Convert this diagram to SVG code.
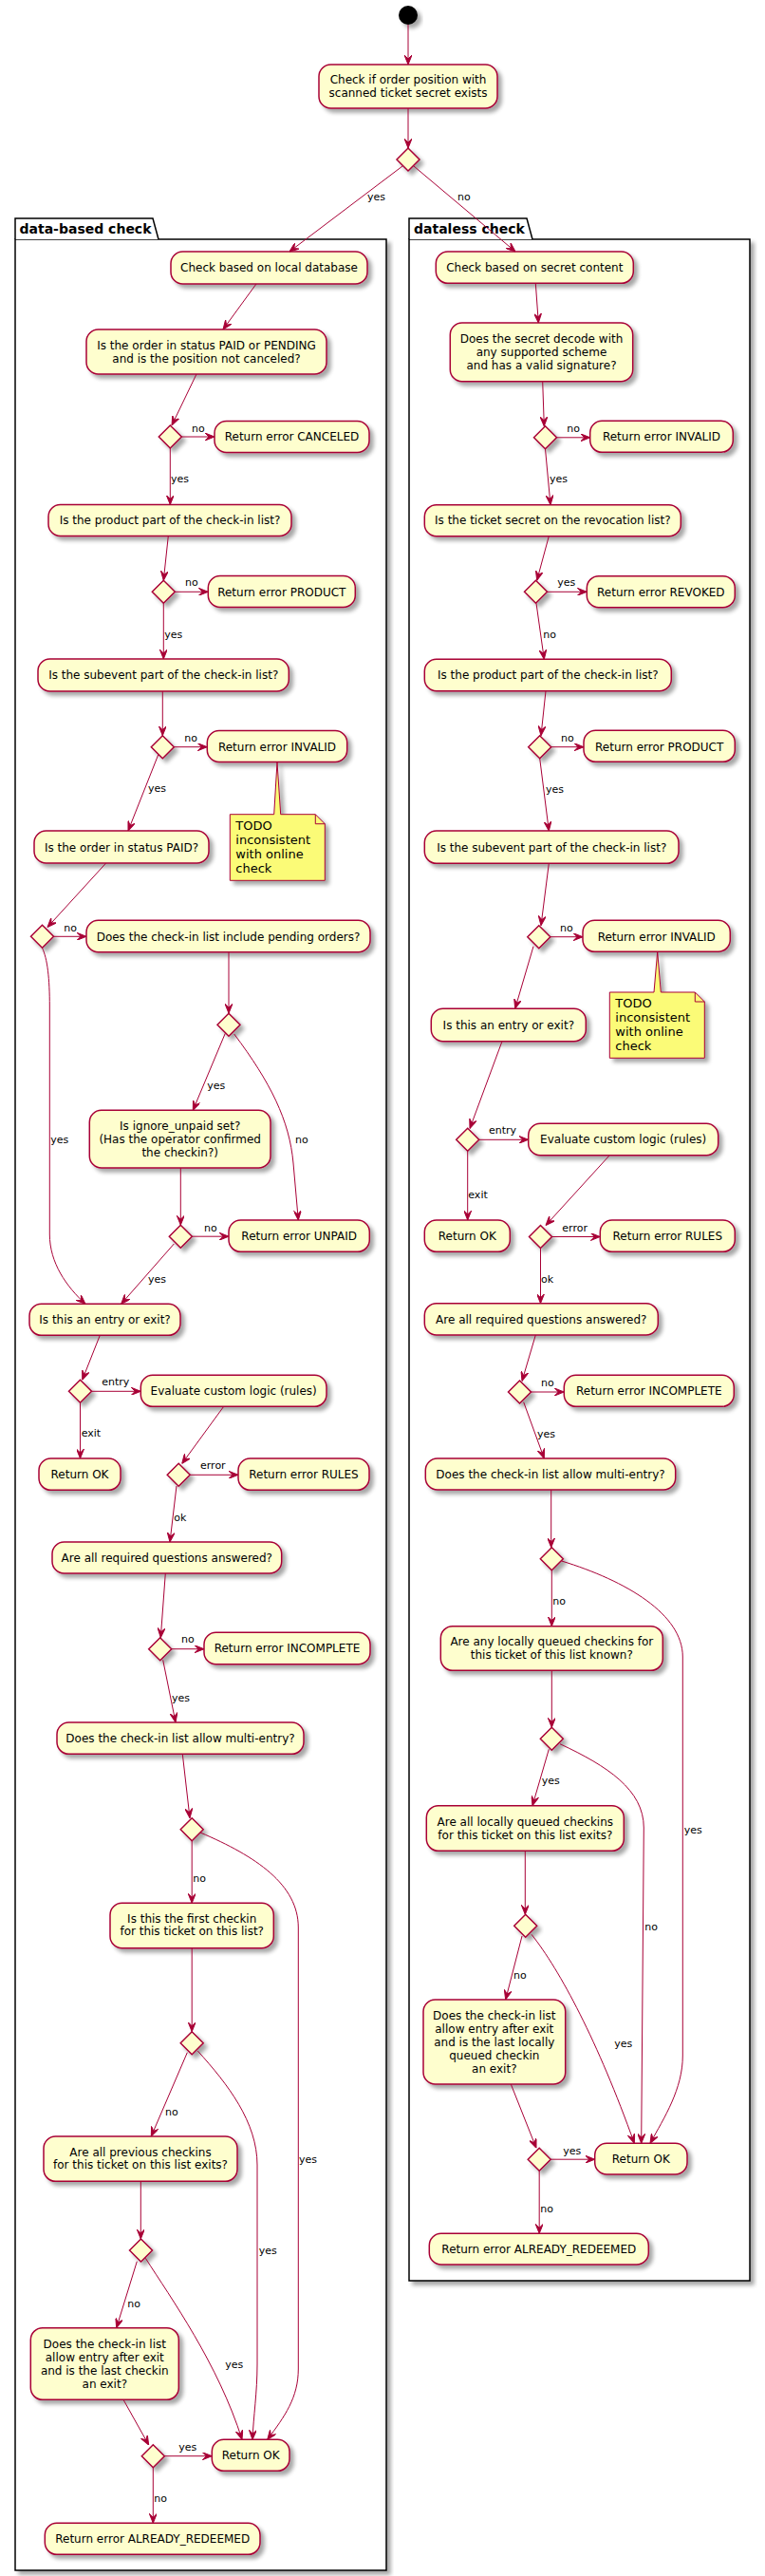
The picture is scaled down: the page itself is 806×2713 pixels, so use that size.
<svg xmlns="http://www.w3.org/2000/svg" width="806" height="2713" viewBox="0 0 806 2713">
<defs>
<filter id="sh" x="-20%" y="-20%" width="150%" height="160%">
<feGaussianBlur in="SourceAlpha" stdDeviation="2"/>
<feOffset dx="4" dy="4"/>
<feComponentTransfer><feFuncA type="linear" slope="0.35"/></feComponentTransfer>
<feMerge><feMergeNode/><feMergeNode in="SourceGraphic"/></feMerge>
</filter>
<filter id="shp" x="-2%" y="-2%" width="104%" height="104%">
<feGaussianBlur in="SourceAlpha" stdDeviation="2"/>
<feOffset dx="4" dy="4"/>
<feComponentTransfer><feFuncA type="linear" slope="0.35"/></feComponentTransfer>
<feMerge><feMergeNode/><feMergeNode in="SourceGraphic"/></feMerge>
</filter>
<marker id="ah" viewBox="0 0 10 8" refX="10" refY="4" markerWidth="10" markerHeight="8" markerUnits="userSpaceOnUse" orient="auto">
<path d="M0,0 L10,4 L0,8 L4,4 Z" fill="#A80036" stroke="#A80036" stroke-width="1"/>
</marker>
<style>
.a{fill:#FEFECE;stroke:#A80036;stroke-width:1.5;filter:url(#sh)}
.d{fill:#FEFECE;stroke:#A80036;stroke-width:1.5;filter:url(#sh)}
.n{fill:#FBFB77;stroke:#A80036;stroke-width:1;filter:url(#sh)}
.nf{fill:none;stroke:#A80036;stroke-width:1}
.p{fill:#FFFFFF;stroke:#000000;stroke-width:1.5}
.t{font-family:"DejaVu Sans",sans-serif;font-size:12px;fill:#000;text-anchor:middle}
.nt{font-family:"DejaVu Sans",sans-serif;font-size:13px;fill:#000}
.l{font-family:"DejaVu Sans",sans-serif;font-size:11px;fill:#000}
.pt{font-family:"DejaVu Sans",sans-serif;font-size:14px;font-weight:bold;fill:#000}
.e{fill:none;stroke:#A80036;stroke-width:1;marker-end:url(#ah)}
</style>
</defs>
<rect width="806" height="2713" fill="#FFFFFF"/>

<g id="pkg_data">
<rect class="p" x="16" y="252" width="391" height="2455" filter="url(#shp)"/>
<path class="p" d="M16,252 V230 H161 L167,252"/>
<text class="pt" x="20.5" y="245.5">data-based check</text>
</g>
<g id="pkg_dataless">
<rect class="p" x="431" y="252" width="359" height="2150" filter="url(#shp)"/>
<path class="p" d="M431,252 V230 H555 L561,252"/>
<text class="pt" x="436" y="245.5">dataless check</text>
</g>

<g id="start"><circle cx="430" cy="16" r="10" fill="#000000" filter="url(#sh)"/></g>
<g id="n_exists"><rect class="a" x="336" y="68" width="188" height="46" rx="12.5"/><text class="t" x="430" y="87.5">Check if order position with</text><text class="t" x="430" y="101.5">scanned ticket secret exists</text></g>
<g id="d_exists"><polygon class="d" points="418,168 430,156 442,168 430,180"/></g>

<!-- data-based check -->
<g id="L1"><rect class="a" x="180" y="265" width="207" height="34" rx="12.5"/><text class="t" x="283.5" y="286">Check based on local database</text></g>
<g id="L2"><rect class="a" x="91" y="347" width="253" height="47" rx="12.5"/><text class="t" x="217.5" y="367.6">Is the order in status PAID or PENDING</text><text class="t" x="217.5" y="381.6">and is the position not canceled?</text></g>
<g id="LD1"><polygon class="d" points="167.3,460 179.3,448 191.3,460 179.3,472"/></g>
<g id="L3"><rect class="a" x="226" y="443.5" width="163" height="33" rx="12.5"/><text class="t" x="307.5" y="464.3">Return error CANCELED</text></g>
<g id="L4"><rect class="a" x="51" y="531.5" width="256" height="33" rx="12.5"/><text class="t" x="179" y="551.8">Is the product part of the check-in list?</text></g>
<g id="LD2"><polygon class="d" points="160.3,623.3 172.3,611.3 184.3,623.3 172.3,635.3"/></g>
<g id="L5"><rect class="a" x="219.3" y="606.5" width="155" height="33" rx="12.5"/><text class="t" x="296.8" y="627.5">Return error PRODUCT</text></g>
<g id="L6"><rect class="a" x="40" y="694" width="264.3" height="34" rx="12.5"/><text class="t" x="172.2" y="715">Is the subevent part of the check-in list?</text></g>
<g id="LD3"><polygon class="d" points="159.3,786.7 171.3,774.7 183.3,786.7 171.3,798.7"/></g>
<g id="L7"><rect class="a" x="218.3" y="769.5" width="147.4" height="33" rx="12.5"/><text class="t" x="292" y="790.5">Return error INVALID</text></g>
<g id="note1"><path class="n" d="M242.3,857.7 H288.7 L292,802.5 L295.7,857.7 H332.3 L342.3,867.7 V927.3 H242.3 Z"/><path class="nf" d="M332.3,857.7 V867.7 H342.3"/><text class="nt" x="248.3" y="874">TODO</text><text class="nt" x="248.3" y="889">inconsistent</text><text class="nt" x="248.3" y="904">with online</text><text class="nt" x="248.3" y="919">check</text></g>
<g id="L8"><rect class="a" x="36" y="875" width="184" height="34" rx="12.5"/><text class="t" x="128" y="897">Is the order in status PAID?</text></g>
<g id="LD4"><polygon class="d" points="32.5,986.3 44.5,974.3 56.5,986.3 44.5,998.3"/></g>
<g id="L9"><rect class="a" x="91" y="969.3" width="299" height="33.4" rx="12.5"/><text class="t" x="240.5" y="990.5">Does the check-in list include pending orders?</text></g>
<g id="LD5"><polygon class="d" points="229,1079.2 241,1067.2 253,1079.2 241,1091.2"/></g>
<g id="L10"><rect class="a" x="94.3" y="1169.3" width="190.7" height="60.7" rx="12.5"/><text class="t" x="189.7" y="1190">Is ignore_unpaid set?</text><text class="t" x="189.7" y="1204">(Has the operator confirmed</text><text class="t" x="189.7" y="1218">the checkin?)</text></g>
<g id="LD6"><polygon class="d" points="178.3,1302.2 190.3,1290.2 202.3,1302.2 190.3,1314.2"/></g>
<g id="L11"><rect class="a" x="241" y="1285" width="148.3" height="33.3" rx="12.5"/><text class="t" x="315.2" y="1306">Return error UNPAID</text></g>
<g id="L12"><rect class="a" x="31" y="1373.3" width="159" height="33" rx="12.5"/><text class="t" x="110.5" y="1393.8">Is this an entry or exit?</text></g>
<g id="LD7"><polygon class="d" points="72.5,1465.3 84.5,1453.3 96.5,1465.3 84.5,1477.3"/></g>
<g id="L13"><rect class="a" x="148.3" y="1448.3" width="195.7" height="33" rx="12.5"/><text class="t" x="246.2" y="1469">Evaluate custom logic (rules)</text></g>
<g id="L14"><rect class="a" x="41" y="1536" width="86" height="33.3" rx="12.5"/><text class="t" x="84" y="1557">Return OK</text></g>
<g id="LD8"><polygon class="d" points="176.2,1553.3 188.2,1541.3 200.2,1553.3 188.2,1565.3"/></g>
<g id="L15"><rect class="a" x="251" y="1536" width="138" height="33.3" rx="12.5"/><text class="t" x="320" y="1557">Return error RULES</text></g>
<g id="L16"><rect class="a" x="55" y="1624" width="241.7" height="33" rx="12.5"/><text class="t" x="175.8" y="1645">Are all required questions answered?</text></g>
<g id="LD9"><polygon class="d" points="156.7,1736.7 168.7,1724.7 180.7,1736.7 168.7,1748.7"/></g>
<g id="L17"><rect class="a" x="215" y="1719.3" width="175" height="33.4" rx="12.5"/><text class="t" x="302.5" y="1740.4">Return error INCOMPLETE</text></g>
<g id="L18"><rect class="a" x="60" y="1814" width="260" height="33.3" rx="12.5"/><text class="t" x="190" y="1835">Does the check-in list allow multi-entry?</text></g>
<g id="LD10"><polygon class="d" points="190.2,1926.7 202.2,1914.7 214.2,1926.7 202.2,1938.7"/></g>
<g id="L19"><rect class="a" x="116" y="2004.3" width="172.3" height="47.4" rx="12.5"/><text class="t" x="202.2" y="2025">Is this the first checkin</text><text class="t" x="202.2" y="2038.3">for this ticket on this list?</text></g>
<g id="LD11"><polygon class="d" points="190.2,2151.7 202.2,2139.7 214.2,2151.7 202.2,2163.7"/></g>
<g id="L20"><rect class="a" x="46" y="2250" width="204" height="47.3" rx="12.5"/><text class="t" x="148" y="2271">Are all previous checkins</text><text class="t" x="148" y="2284.3">for this ticket on this list exits?</text></g>
<g id="LD12"><polygon class="d" points="136.5,2370 148.5,2358 160.5,2370 148.5,2382"/></g>
<g id="L21"><rect class="a" x="32.3" y="2451.7" width="156" height="75.6" rx="12.5"/><text class="t" x="110.3" y="2472.6">Does the check-in list</text><text class="t" x="110.3" y="2486.6">allow entry after exit</text><text class="t" x="110.3" y="2500.6">and is the last checkin</text><text class="t" x="110.3" y="2514.6">an exit?</text></g>
<g id="LD13"><polygon class="d" points="149.3,2586.7 161.3,2574.7 173.3,2586.7 161.3,2598.7"/></g>
<g id="L22"><rect class="a" x="223.3" y="2569.3" width="81.7" height="33" rx="12.5"/><text class="t" x="264.2" y="2590">Return OK</text></g>
<g id="L23"><rect class="a" x="47.3" y="2657.3" width="226.7" height="33" rx="12.5"/><text class="t" x="160.7" y="2678">Return error ALREADY_REDEEMED</text></g>

<!-- dataless check -->
<g id="R1"><rect class="a" x="459.3" y="265" width="208" height="33.3" rx="12.5"/><text class="t" x="563.3" y="286">Check based on secret content</text></g>
<g id="R2"><rect class="a" x="474.3" y="340" width="192.4" height="61.7" rx="12.5"/><text class="t" x="570.5" y="361">Does the secret decode with</text><text class="t" x="570.5" y="375">any supported scheme</text><text class="t" x="570.5" y="389">and has a valid signature?</text></g>
<g id="RD1"><polygon class="d" points="562.5,460.8 574.5,448.8 586.5,460.8 574.5,472.8"/></g>
<g id="R3"><rect class="a" x="621.7" y="443.3" width="150.6" height="33" rx="12.5"/><text class="t" x="697" y="464.3">Return error INVALID</text></g>
<g id="R4"><rect class="a" x="447.3" y="531.7" width="270" height="33" rx="12.5"/><text class="t" x="582.3" y="552">Is the ticket secret on the revocation list?</text></g>
<g id="RD2"><polygon class="d" points="552.5,623.3 564.5,611.3 576.5,623.3 564.5,635.3"/></g>
<g id="R5"><rect class="a" x="618.3" y="606.7" width="156" height="33" rx="12.5"/><text class="t" x="696.3" y="627.5">Return error REVOKED</text></g>
<g id="R6"><rect class="a" x="447.3" y="694.3" width="260" height="33.4" rx="12.5"/><text class="t" x="577.3" y="715">Is the product part of the check-in list?</text></g>
<g id="RD3"><polygon class="d" points="556.7,786.7 568.7,774.7 580.7,786.7 568.7,798.7"/></g>
<g id="R7"><rect class="a" x="615" y="769.3" width="159.3" height="33" rx="12.5"/><text class="t" x="694.7" y="790.5">Return error PRODUCT</text></g>
<g id="R8"><rect class="a" x="447.3" y="875" width="267.7" height="34.3" rx="12.5"/><text class="t" x="581.2" y="896.5">Is the subevent part of the check-in list?</text></g>
<g id="RD4"><polygon class="d" points="555.8,986.7 567.8,974.7 579.8,986.7 567.8,998.7"/></g>
<g id="R9"><rect class="a" x="614" y="969.3" width="155.3" height="33" rx="12.5"/><text class="t" x="691.7" y="990.5">Return error INVALID</text></g>
<g id="note2"><path class="n" d="M642.3,1045 H689 L692.7,1002.3 L696.3,1045 H732.3 L742.3,1055 V1114.3 H642.3 Z"/><path class="nf" d="M732.3,1045 V1055 H742.3"/><text class="nt" x="648.3" y="1061.4">TODO</text><text class="nt" x="648.3" y="1076.4">inconsistent</text><text class="nt" x="648.3" y="1091.4">with online</text><text class="nt" x="648.3" y="1106.4">check</text></g>
<g id="R10"><rect class="a" x="454.3" y="1062.3" width="163" height="34.4" rx="12.5"/><text class="t" x="535.8" y="1083.6">Is this an entry or exit?</text></g>
<g id="RD5"><polygon class="d" points="480.7,1200.3 492.7,1188.3 504.7,1200.3 492.7,1212.3"/></g>
<g id="R11"><rect class="a" x="556.7" y="1183.3" width="200" height="33.4" rx="12.5"/><text class="t" x="656.7" y="1204.3">Evaluate custom logic (rules)</text></g>
<g id="R12"><rect class="a" x="447.3" y="1285" width="90" height="33.3" rx="12.5"/><text class="t" x="492.3" y="1306">Return OK</text></g>
<g id="RD6"><polygon class="d" points="557.5,1302.5 569.5,1290.5 581.5,1302.5 569.5,1314.5"/></g>
<g id="R13"><rect class="a" x="632.3" y="1285" width="142" height="33.3" rx="12.5"/><text class="t" x="703.3" y="1306">Return error RULES</text></g>
<g id="R14"><rect class="a" x="447.3" y="1372.7" width="246" height="33.3" rx="12.5"/><text class="t" x="570.3" y="1393.5">Are all required questions answered?</text></g>
<g id="RD7"><polygon class="d" points="535.5,1466 547.5,1454 559.5,1466 547.5,1478"/></g>
<g id="R15"><rect class="a" x="594.3" y="1448.3" width="179" height="33" rx="12.5"/><text class="t" x="683.8" y="1469">Return error INCOMPLETE</text></g>
<g id="R16"><rect class="a" x="448.3" y="1536" width="263.4" height="33" rx="12.5"/><text class="t" x="580" y="1556.8">Does the check-in list allow multi-entry?</text></g>
<g id="RD8"><polygon class="d" points="569.3,1641.7 581.3,1629.7 593.3,1641.7 581.3,1653.7"/></g>
<g id="R17"><rect class="a" x="464.3" y="1712.7" width="234" height="46.6" rx="12.5"/><text class="t" x="581.3" y="1733.3">Are any locally queued checkins for</text><text class="t" x="581.3" y="1746.6">this ticket of this list known?</text></g>
<g id="RD9"><polygon class="d" points="569.3,1831.3 581.3,1819.3 593.3,1831.3 581.3,1843.3"/></g>
<g id="R18"><rect class="a" x="449.3" y="1901.7" width="208" height="47.6" rx="12.5"/><text class="t" x="553.3" y="1923.3">Are all locally queued checkins</text><text class="t" x="553.3" y="1936.6">for this ticket on this list exits?</text></g>
<g id="RD10"><polygon class="d" points="541.7,2028.3 553.7,2016.3 565.7,2028.3 553.7,2040.3"/></g>
<g id="R19"><rect class="a" x="446" y="2106" width="149.7" height="89" rx="12.5"/><text class="t" x="520.8" y="2127">Does the check-in list</text><text class="t" x="520.8" y="2141">allow entry after exit</text><text class="t" x="520.8" y="2155">and is the last locally</text><text class="t" x="520.8" y="2169">queued checkin</text><text class="t" x="520.8" y="2183">an exit?</text></g>
<g id="RD11"><polygon class="d" points="556.2,2274.2 568.2,2262.2 580.2,2274.2 568.2,2286.2"/></g>
<g id="R20"><rect class="a" x="626.7" y="2257.3" width="97.3" height="32.7" rx="12.5"/><text class="t" x="675.3" y="2278">Return OK</text></g>
<g id="R21"><rect class="a" x="452.3" y="2352.3" width="231" height="32.7" rx="12.5"/><text class="t" x="567.8" y="2373">Return error ALREADY_REDEEMED</text></g>

<g id="connectors">
<path class="e" d="M430,26 V68"/>
<path class="e" d="M430,114 V156"/>
<path class="e" d="M424,175 L305,265"/>
<path class="e" d="M436,175 L543,265"/>
<text class="l" x="387" y="211">yes</text>
<text class="l" x="482" y="211">no</text>

<path class="e" d="M270,299 L235,347"/>
<path class="e" d="M207,394 L181,448"/>
<path class="e" d="M191.3,460 H226"/><text class="l" x="202" y="454.5">no</text>
<path class="e" d="M179.3,472 V531.5"/><text class="l" x="180" y="508">yes</text>
<path class="e" d="M177.3,564.5 L172.3,611.3"/>
<path class="e" d="M184.3,623.3 H219.3"/><text class="l" x="195" y="617">no</text>
<path class="e" d="M172.3,635.3 V694"/><text class="l" x="173.3" y="671.5">yes</text>
<path class="e" d="M171.3,728 V774.7"/>
<path class="e" d="M183.3,786.7 H218.3"/><text class="l" x="194.3" y="780.5">no</text>
<path class="e" d="M166.7,795 L135,875"/><text class="l" x="156" y="834">yes</text>
<path class="e" d="M111.7,909 L50,976.5"/>
<path class="e" d="M56.5,986.3 H91"/><text class="l" x="67.3" y="980.5">no</text>
<path class="e" d="M241,1002.7 V1067.2"/>
<path class="e" d="M237.3,1088.3 L203.3,1169.3"/><text class="l" x="218.3" y="1146.5">yes</text>
<path class="e" d="M246.7,1089 C285,1140 305,1180 309,1225 L314.3,1285"/><text class="l" x="311" y="1204">no</text>
<path class="e" d="M44.5,998.3 C50,1010 52.3,1030 52.3,1060 L52.3,1300 C52.3,1330 70,1355 90,1373.3"/><text class="l" x="53.3" y="1204">yes</text>
<path class="e" d="M190.3,1230 V1290.2"/>
<path class="e" d="M202.3,1302.2 H241"/><text class="l" x="215" y="1296.5">no</text>
<path class="e" d="M183.3,1310 L127.7,1373.3"/><text class="l" x="156" y="1351">yes</text>
<path class="e" d="M105.3,1406.3 L86.7,1453.3"/>
<path class="e" d="M96.5,1465.3 H148.3"/><text class="l" x="107.3" y="1459">entry</text>
<path class="e" d="M84.5,1477.3 V1536"/><text class="l" x="85.7" y="1513">exit</text>
<path class="e" d="M235.7,1481.3 L191.7,1541.5"/>
<path class="e" d="M200.2,1553.3 H251"/><text class="l" x="211" y="1547">error</text>
<path class="e" d="M186,1565 L179,1624"/><text class="l" x="183.3" y="1601.5">ok</text>
<path class="e" d="M174.3,1657 L169.3,1724.7"/>
<path class="e" d="M180.7,1736.7 H215"/><text class="l" x="191" y="1730">no</text>
<path class="e" d="M171.7,1748.3 L185,1814"/><text class="l" x="181" y="1791.5">yes</text>
<path class="e" d="M192.3,1847.3 L200,1914.7"/>
<path class="e" d="M202.2,1938.7 V2004.3"/><text class="l" x="203.3" y="1981.5">no</text>
<path class="e" d="M211,1930 C270,1955 314.3,1985 314.3,2030 L314.3,2495 C314.3,2525 300,2545 281.7,2569.3"/><text class="l" x="315" y="2278">yes</text>
<path class="e" d="M202.2,2051.7 V2139.7"/>
<path class="e" d="M197.3,2161.7 L159.3,2250"/><text class="l" x="174" y="2227.5">no</text>
<path class="e" d="M208.3,2160 C240,2195 271,2235 271,2280 L271,2490 C271,2520 267,2545 266,2569.3"/><text class="l" x="272.7" y="2373.5">yes</text>
<path class="e" d="M148.3,2297.3 V2358"/>
<path class="e" d="M144.3,2381.7 L122.7,2451.7"/><text class="l" x="134.3" y="2429.5">no</text>
<path class="e" d="M153.3,2378.3 C180,2420 230,2490 255,2569.3"/><text class="l" x="237.3" y="2494">yes</text>
<path class="e" d="M130,2527.3 L156.7,2575"/>
<path class="e" d="M173.3,2586.7 H223.3"/><text class="l" x="188.3" y="2581">yes</text>
<path class="e" d="M161.3,2598.7 V2657.3"/><text class="l" x="162.3" y="2635">no</text>

<path class="e" d="M564.3,298.3 L567.3,340"/>
<path class="e" d="M571.7,401.7 L573.3,448.8"/>
<path class="e" d="M586.5,460.8 H621.7"/><text class="l" x="597.3" y="454.5">no</text>
<path class="e" d="M574.5,472.8 L580,531.7"/><text class="l" x="579" y="508">yes</text>
<path class="e" d="M578.3,564.7 L565.7,611.3"/>
<path class="e" d="M576.5,623.3 H618.3"/><text class="l" x="587.3" y="617">yes</text>
<path class="e" d="M565,635.3 L573.3,694.3"/><text class="l" x="572.3" y="671.5">no</text>
<path class="e" d="M575,727.7 L570,774.7"/>
<path class="e" d="M580.7,786.7 H615"/><text class="l" x="591" y="780.5">no</text>
<path class="e" d="M568.7,798.7 L578.3,875"/><text class="l" x="575" y="834.5">yes</text>
<path class="e" d="M578.3,909.3 L570,974.7"/>
<path class="e" d="M579.8,986.7 H614"/><text class="l" x="590" y="980.5">no</text>
<path class="e" d="M562,996.7 L542.7,1062.3"/>
<path class="e" d="M529,1096.7 L495,1188.5"/>
<path class="e" d="M504.7,1200.3 H556.7"/><text class="l" x="515" y="1194">entry</text>
<path class="e" d="M492.7,1212.3 V1285"/><text class="l" x="493.3" y="1262">exit</text>
<path class="e" d="M642.3,1216.7 L575,1290.5"/>
<path class="e" d="M581.5,1302.5 H632.3"/><text class="l" x="592.3" y="1296.5">error</text>
<path class="e" d="M569.5,1314.5 V1372.7"/><text class="l" x="570" y="1351">ok</text>
<path class="e" d="M564.3,1406 L550,1454.5"/>
<path class="e" d="M559.5,1466 H594.3"/><text class="l" x="570" y="1459.5">no</text>
<path class="e" d="M551.7,1476.7 L573.3,1536"/><text class="l" x="566" y="1513.5">yes</text>
<path class="e" d="M580.7,1569 V1629.7"/>
<path class="e" d="M581.3,1653.7 V1712.7"/><text class="l" x="582.3" y="1690">no</text>
<path class="e" d="M591.7,1644 C660,1665 719.3,1700 719.3,1745 L719.3,2165 C719.3,2200 700,2230 685,2257.3"/><text class="l" x="720.7" y="1931">yes</text>
<path class="e" d="M581.3,1759.3 V1819.3"/>
<path class="e" d="M578.3,1842.3 L561,1901.7"/><text class="l" x="570.7" y="1879">yes</text>
<path class="e" d="M590,1836.7 C640,1860 678.3,1885 678.3,1925 L675.7,2257.3"/><text class="l" x="679.3" y="2032.5">no</text>
<path class="e" d="M553.3,1949.3 V2016.3"/>
<path class="e" d="M550,2039 L532.7,2106"/><text class="l" x="541" y="2083.5">no</text>
<path class="e" d="M560,2037.3 C590,2075 630,2150 668.3,2257.3"/><text class="l" x="647.3" y="2156">yes</text>
<path class="e" d="M538.3,2195 L565,2262.3"/>
<path class="e" d="M580.2,2274.2 H626.7"/><text class="l" x="593.3" y="2268.5">yes</text>
<path class="e" d="M568.2,2286.2 V2352.3"/><text class="l" x="569.3" y="2330">no</text>
</g>
</svg>
